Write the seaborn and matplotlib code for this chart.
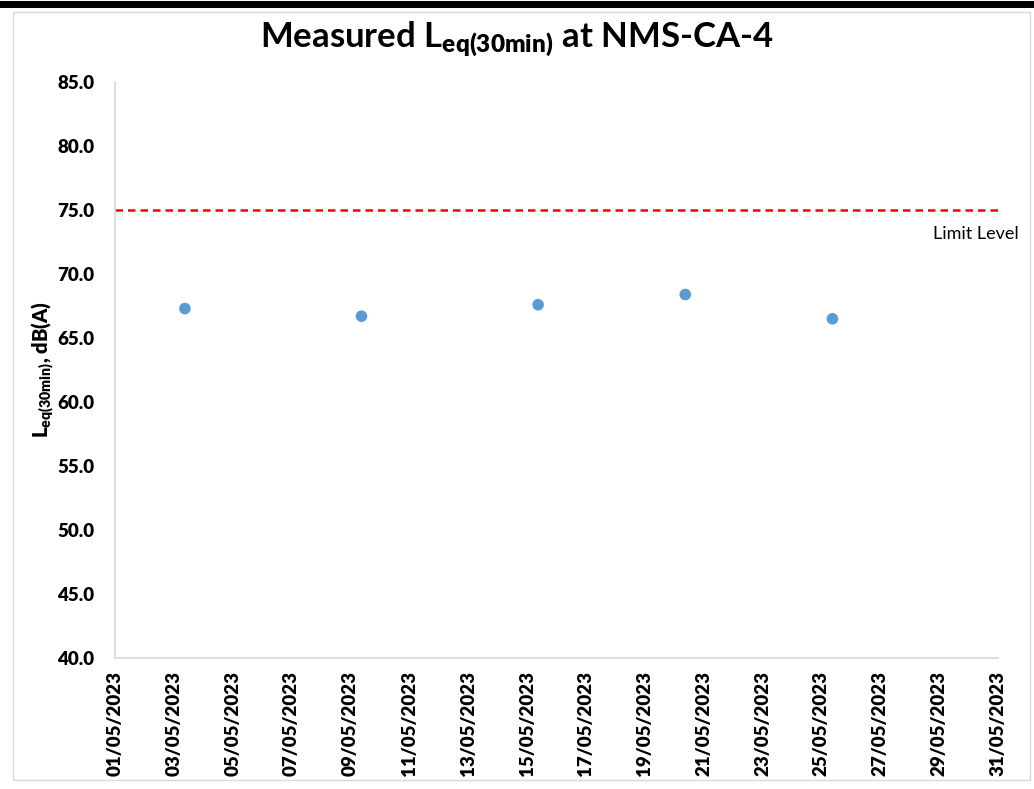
import matplotlib.pyplot as plt
import matplotlib.dates as mdates
import seaborn as sns
import pandas as pd
import numpy as np
from matplotlib.patches import Rectangle
from matplotlib.lines import Line2D

dates = ['2023-05-03 09:00', '2023-05-09 09:00', '2023-05-15 09:00',
         '2023-05-20 09:00', '2023-05-25 09:00']
leq = [67.3, 66.7, 67.6, 68.4, 66.5]
limit_level = 75.0
x_start = '2023-05-01'
x_end = '2023-05-31'

df = pd.DataFrame({'date': pd.to_datetime(dates), 'leq': leq})

sns.set_theme(style='white')
plt.rcParams['font.family'] = ['Lato', 'DejaVu Sans']
plt.rcParams['font.weight'] = 'heavy'
plt.rcParams['text.color'] = 'black'
plt.rcParams['axes.labelcolor'] = 'black'
plt.rcParams['xtick.color'] = 'black'
plt.rcParams['ytick.color'] = 'black'
plt.rcParams['mathtext.fontset'] = 'custom'
plt.rcParams['mathtext.rm'] = 'Lato:heavy'
plt.rcParams['mathtext.bf'] = 'Lato:heavy'
plt.rcParams['mathtext.default'] = 'bf'

fig = plt.figure(figsize=(10.34, 7.89), dpi=100)
ax = fig.add_axes([115 / 1034, 1 - 658 / 789, (998 - 115) / 1034, (658 - 82) / 789])

sns.scatterplot(data=df, x='date', y='leq', ax=ax, color='#5b9bd5', s=70,
                edgecolor='none', zorder=3)

xs = pd.to_datetime([x_start, x_end])
ax.plot(xs, [limit_level, limit_level], color='#ff0000', linestyle=(0, (3, 2)), linewidth=1.8)
ax.text(1.024, (limit_level - 40) / 45 - 0.027, 'Limit Level', transform=ax.transAxes,
        ha='right', va='top', fontsize=13, fontweight='normal')

ax.set_xlim(xs[0], xs[1])
ax.set_ylim(40, 85)
ax.set_yticks(np.arange(40, 86, 5))
ax.yaxis.set_major_formatter(plt.FormatStrFormatter('%.1f'))
ax.xaxis.set_major_locator(mdates.DayLocator(interval=2))
ax.xaxis.set_major_formatter(mdates.DateFormatter('%d/%m/%Y'))
ax.tick_params(axis='both', length=0, labelsize=13.5)
ax.tick_params(axis='x', labelrotation=90, pad=9)
ax.tick_params(axis='y', pad=15)
for lbl in ax.get_xticklabels() + ax.get_yticklabels():
    lbl.set_fontweight('heavy')

for s in ['top', 'right']:
    ax.spines[s].set_visible(False)
for s in ['left', 'bottom']:
    ax.spines[s].set_color('#d9d9d9')
    ax.spines[s].set_linewidth(1.2)

ax.set_xlabel('')
ax.set_ylabel('L$_{eq(30min)}$, dB(A)', fontsize=14.5, fontweight='heavy', labelpad=1)
fig.text(0.5, 1 - 39 / 789, 'Measured L$_{eq(30min)}$ at NMS-CA-4', fontsize=25,
         fontweight='bold', ha='center', va='center')

# chart border and top bar
fig.patches.append(Rectangle((13 / 1034, 1 - 780 / 789), 1017 / 1034, 768 / 789,
                             transform=fig.transFigure, fill=False, edgecolor='#d9d9d9', linewidth=1))
fig.lines.append(Line2D([0, 1], [1 - 4 / 789, 1 - 4 / 789], transform=fig.transFigure,
                        color='black', linewidth=5))

fig.savefig('out.png', dpi=100)
